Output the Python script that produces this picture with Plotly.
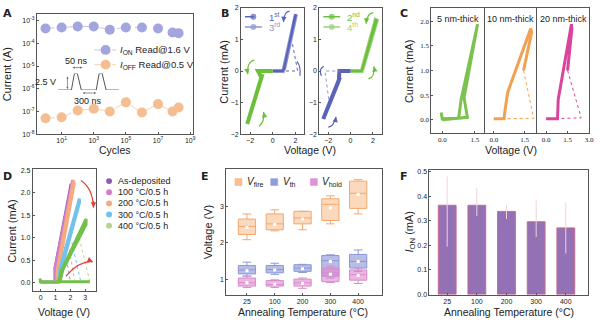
import plotly.graph_objects as go

W, H = 600, 323
def px(x): return x / W
def py(y): return 1 - y / H
def dom_x(a, b): return [a / W, b / W]
def dom_y(t, b): return [1 - b / H, 1 - t / H]

FONT = "Liberation Sans"
SERIF = "Liberation Serif"
DARK = "#555555"

# ================= DATA =================
# Panel A : endurance
cycles = [1, 10, 100, 1e3, 1e4, 1e5, 1e6, 1e7, 8e7, 1.9e8]
i_on = [4.5e-4, 5e-4, 5.5e-4, 5.5e-4, 4e-4, 5e-4, 5e-4, 4.5e-4, 3e-4, 2.8e-4]
i_off = [5e-8, 5.5e-8, 1.1e-7, 1.3e-7, 1e-7, 2.5e-7, 9e-8, 2.1e-7, 1e-7, 1.5e-7]
a_names = ["<i>I</i><sub>ON</sub> Read@1.6 V", "<i>I</i><sub>OFF</sub> Read@0.5 V"]
a_ytick = [1e-8, 1e-7, 1e-6, 1e-5, 1e-4, 1e-3]
a_ytext = ["10<sup>-8</sup>", "10<sup>-7</sup>", "10<sup>-6</sup>", "10<sup>-5</sup>", "10<sup>-4</sup>", "10<sup>-3</sup>"]
a_xtick = [1e1, 1e3, 1e5, 1e7, 1e9]
a_xtext = ["10<sup>1</sup>", "10<sup>3</sup>", "10<sup>5</sup>", "10<sup>7</sup>", "10<sup>9</sup>"]
pulse_t = [0, 14, 17, 20, 24, 39, 42, 45, 49, 62]
pulse_v = [0, 0, 1, 1, 0, 0, 1, 1, 0, 0]

# Panel B : bipolar I-V (V, mA)
b1_blue_v = [0.0, 0.9, 1.0, 2.05, 1.95, 1.0]
b1_blue_i = [0.0, 0.0, 0.1, 1.8, 1.72, 0.05]
b1_blue_ret_v = [1.75, 2.2, 0.0]
b1_blue_ret_i = [0.85, 0.0, 0.0]
b1_green_v = [0.0, -1.3, -1.0, -2.25, -2.15, -0.9]
b1_green_i = [0.0, 0.0, -0.2, -1.68, -1.6, -0.1]
b2_green_v = [0.0, 1.0, 1.1, 2.35, 2.25, 1.0]
b2_green_i = [0.0, 0.0, 0.1, 1.6, 1.62, 0.0]
b2_blue_v = [0.0, -1.0, -1.05, -2.45, -2.35, -0.95]
b2_blue_i = [0.0, 0.0, -0.3, -1.52, -1.45, -0.2]
b2_blue_ret_v = [-1.95, -2.3, -1.0]
b2_blue_ret_i = [-0.9, 0.0, 0.0]
b_names = ["1<sup>st</sup>", "3<sup>rd</sup>", "2<sup>nd</sup>", "4<sup>th</sup>"]

# Panel C : thickness
c5_v = [-0.05, 0.0, 0.75, 0.8, 0.86, 1.62, 1.58, 1.0, 1.15, 0.0]
c5_i = [0.15, 0.02, 0.03, 0.2, 0.4, 1.94, 1.85, 0.45, 0.05, 0.0]
c10_v = [0.0, 0.5, 0.55, 0.68, 1.8, 1.85, 1.45]
c10_i = [0.02, 0.02, 0.2, 0.56, 1.85, 1.78, 1.0]
c10_ret_v = [1.45, 1.95, 0.0]
c10_ret_i = [1.0, 0.03, 0.02]
c20_v = [0.0, 0.8, 0.82, 0.85, 1.77, 1.8, 1.5]
c20_i = [0.02, 0.02, 0.2, 0.42, 1.94, 1.85, 1.0]
c20_ret_v = [1.5, 2.45, 0.0]
c20_ret_i = [1.0, 0.04, 0.02]
c_labels = ["5 nm-thick", "10 nm-thick", "20 nm-thick"]

# Panel D : annealing I-V
d_names = ["As-deposited", "100 °C/0.5 h", "200 °C/0.5 h", "300 °C/0.5 h", "400 °C/0.5 h"]
d_colors = ["#8A5DB3", "#D07FC8", "#F5AA80", "#72C3EC", "#B5D58C"]
d_asdep_v = [0.95, 2.05]
d_asdep_i = [0.3, 2.2]
d_100_v = [0.0, 0.95, 0.95, 2.15, 2.2, 1.05]
d_100_i = [0.02, 0.02, 0.3, 2.28, 2.2, 0.35]
d_200_v = [0.0, 1.1, 1.12, 2.2, 2.25, 1.2]
d_200_i = [0.02, 0.02, 0.3, 2.27, 2.2, 0.3]
d_300_v = [0.0, 1.25, 1.28, 2.6, 2.62, 1.35]
d_300_i = [0.02, 0.02, 0.3, 1.87, 1.8, 0.25]
d_400_v = [-0.05, 0.0, 1.2, 1.38, 3.05, 3.05, 1.5, 1.3, 3.3]
d_400_i = [0.1, 0.02, 0.02, 0.26, 1.42, 1.3, 0.3, 0.03, 0.03]
d_ret_v = [[1.6, 2.0], [1.8, 2.3], [2.1, 2.7], [2.6, 3.3]]
d_ret_i = [[0.8, 0.02], [1.0, 0.02], [0.9, 0.02], [1.0, 0.03]]

# Panel E : box statistics
temps = ["25", "100", "200", "300", "400"]
fire_lo = [2.09, 2.33, 2.36, 2.52, 2.79]
fire_q1 = [2.23, 2.36, 2.52, 2.61, 2.94]
fire_med = [2.45, 2.52, 2.68, 3.05, 3.35]
fire_q3 = [2.65, 2.79, 2.86, 3.2, 3.68]
fire_hi = [2.79, 2.9, 2.86, 3.28, 3.72]
fire_mean = [2.42, 2.5, 2.65, 2.95, 3.32]
th_lo = [1.1, 1.15, 1.2, 1.05, 1.23]
th_q1 = [1.16, 1.19, 1.23, 1.1, 1.32]
th_med = [1.27, 1.28, 1.32, 1.52, 1.5]
th_q3 = [1.39, 1.39, 1.41, 1.66, 1.69]
th_hi = [1.48, 1.45, 1.42, 1.68, 1.81]
th_mean = [1.25, 1.27, 1.3, 1.5, 1.5]
hold_lo = [0.79, 0.79, 0.77, 0.93, 0.9]
hold_q1 = [0.83, 0.83, 0.83, 0.95, 0.99]
hold_med = [0.92, 0.87, 0.92, 1.19, 1.14]
hold_q3 = [1.05, 0.98, 1.02, 1.32, 1.27]
hold_hi = [1.1, 1.0, 1.05, 1.37, 1.32]
hold_mean = [0.92, 0.88, 0.9, 1.15, 1.12]
e_names = ["<i>V</i><sub>fire</sub>", "<i>V</i><sub>th</sub>", "<i>V</i><sub>hold</sub>"]

# Panel F : ION bars
i_on_mean = [0.363, 0.363, 0.338, 0.296, 0.271]
i_on_err_plus = [0.117, 0.07, 0.027, 0.088, 0.103]
i_on_err_minus = [0.168, 0.043, 0.031, 0.062, 0.104]

# ================= FIGURE =================
fig = go.Figure()

def axis(domain, anchor, rng, **kw):
    d = dict(domain=domain, anchor=anchor, range=rng, showline=True, linecolor=DARK,
             linewidth=0.8, mirror=True, ticks="inside", ticklen=2, tickwidth=0.8,
             tickcolor=DARK, tickfont=dict(size=7, family=FONT, color="#222"),
             showgrid=False, zeroline=False)
    d.update(kw)
    return d

ION_C, IOFF_C = "#A2A5DE", "#F6BD90"
# ---- A
fig.add_trace(go.Scatter(x=cycles, y=i_on, mode="lines+markers", xaxis="x", yaxis="y",
                         line=dict(color="#C3C6EC", width=1, dash="dash"),
                         marker=dict(size=10, color=ION_C), showlegend=False))
fig.add_trace(go.Scatter(x=cycles, y=i_off, mode="lines+markers", xaxis="x", yaxis="y",
                         line=dict(color="#F8D2B4", width=1, dash="dash"),
                         marker=dict(size=10, color=IOFF_C), showlegend=False))
fig.add_trace(go.Scatter(x=pulse_t, y=pulse_v, mode="lines", xaxis="x10", yaxis="y10",
                         line=dict(color="#555", width=1), showlegend=False))

# ---- B
BLUE, LBLUE, GREEN, LGREEN = "#5A63B8", "#8D95D4", "#6CBF3A", "#9AD27A"
def line(xa, ya, v, i, color, width=3.5, dash=None):
    fig.add_trace(go.Scatter(x=v, y=i, mode="lines", xaxis=xa, yaxis=ya,
                             line=dict(color=color, width=width, dash=dash), showlegend=False))

line("x2", "y2", b1_blue_v, b1_blue_i, LBLUE, 4)
line("x2", "y2", b1_blue_v, b1_blue_i, BLUE, 2)
line("x2", "y2", b1_blue_ret_v, b1_blue_ret_i, BLUE, 1, "dot")
line("x2", "y2", b1_green_v, b1_green_i, GREEN, 4)
line("x3", "y3", b2_green_v, b2_green_i, LGREEN, 4)
line("x3", "y3", b2_green_v, b2_green_i, GREEN, 2)
line("x3", "y3", b2_blue_v, b2_blue_i, BLUE, 4)
line("x3", "y3", b2_blue_ret_v, b2_blue_ret_i, LBLUE, 1, "dot")

# ---- C
CG, CO, CP = "#7CC24E", "#F2A052", "#D9459B"
line("x4", "y4", c5_v, c5_i, CG, 3)
line("x5", "y5", c10_v, c10_i, CO, 3)
line("x5", "y5", c10_ret_v, c10_ret_i, CO, 1, "dot")
line("x6", "y6", c20_v, c20_i, CP, 3)
line("x6", "y6", c20_ret_v, c20_ret_i, CP, 1, "dot")

# ---- D
for k, (rv, ri) in enumerate(zip(d_ret_v, d_ret_i)):
    line("x7", "y7", rv, ri, d_colors[k + 1], 1, "dot")
line("x7", "y7", d_asdep_v, d_asdep_i, d_colors[0], 3)
line("x7", "y7", d_100_v, d_100_i, d_colors[1], 3)
line("x7", "y7", d_200_v, d_200_i, d_colors[2], 3)
line("x7", "y7", d_300_v, d_300_i, d_colors[3], 3)
line("x7", "y7", d_400_v, d_400_i, "#72C04A", 3)

# ---- E
box_sets = [
    (fire_lo, fire_q1, fire_med, fire_q3, fire_hi, fire_mean, "rgba(248,185,135,0.55)", "#F2A86E"),
    (th_lo, th_q1, th_med, th_q3, th_hi, th_mean, "rgba(135,145,215,0.6)", "#8E96D6"),
    (hold_lo, hold_q1, hold_med, hold_q3, hold_hi, hold_mean, "rgba(222,135,205,0.6)", "#D98BCB"),
]
for lo, q1, med, q3, hi, mean, fill, lc in box_sets:
    fig.add_trace(go.Box(x=temps, lowerfence=lo, q1=q1, median=med, q3=q3, upperfence=hi,
                         xaxis="x8", yaxis="y8", fillcolor=fill, line=dict(color=lc, width=1),
                         width=0.62, whiskerwidth=0.5, showlegend=False, boxpoints=False))
    fig.add_trace(go.Scatter(x=temps, y=mean, mode="markers", xaxis="x8", yaxis="y8",
                             marker=dict(symbol="square", size=3, color="white"), showlegend=False))

# ---- F
fig.add_trace(go.Bar(x=temps, y=i_on_mean, xaxis="x9", yaxis="y9", width=0.6,
                     marker=dict(color="#9470B5", line=dict(color="#C86A8C", width=1)),
                     error_y=dict(type="data", symmetric=False, array=i_on_err_plus,
                                  arrayminus=i_on_err_minus, color="#F2D0DC", thickness=1, width=0),
                     showlegend=False))

# ================= LAYOUT =================
lay = dict(width=W, height=H, margin=dict(l=0, r=0, t=0, b=0),
           paper_bgcolor="white", plot_bgcolor="rgba(0,0,0,0)", showlegend=False,
           font=dict(family=FONT, color="#222"), boxmode="overlay")

lay["xaxis"] = axis(dom_x(37, 195), "y", [-0.55, 9.2], type="log", tickvals=a_xtick, ticktext=a_xtext)
lay["yaxis"] = axis(dom_y(10, 133), "x", [-8, -2.7], type="log", tickvals=a_ytick, ticktext=a_ytext)
lay["xaxis10"] = dict(domain=dom_x(58, 120), anchor="y10", range=[0, 62], visible=False)
lay["yaxis10"] = dict(domain=dom_y(71, 88), anchor="x10", range=[0, 1], visible=False)

for n, d in ((2, (243, 307)), (3, (322, 385))):
    lay[f"xaxis{n}"] = axis(dom_x(*d), f"y{n}", [-2.8, 2.8], tickvals=[-2, 0, 2])
    lay[f"yaxis{n}"] = axis(dom_y(4, 133), f"x{n}", [-2, 2], tickvals=[-2, -1, 0, 1, 2])

cdoms = [(435, 488, [-0.5, 1.91]), (488, 542, [-0.48, 2.13]), (542, 594, [-0.6, 3.0])]
for k, (a, b, r) in enumerate(cdoms):
    n = 4 + k
    lay[f"xaxis{n}"] = axis(dom_x(a, b), f"y{n}", r, tickvals=[0, 1.5, 3.0], tickformat=".1f",
                            tickfont=dict(size=7, family=SERIF, color="#222"))
    lay[f"yaxis{n}"] = axis(dom_y(4, 132), f"x{n}", [-0.27, 2.27],
                            tickvals=[0, 0.5, 1, 1.5, 2], tickformat=".1f",
                            tickfont=dict(size=7, family=SERIF, color="#222"),
                            showticklabels=(k == 0), ticks="inside" if k == 0 else "",
                            showline=(k != 1))

lay["xaxis7"] = axis(dom_x(33, 97), "y7", [-0.53, 3.73], tickvals=[0, 1, 2, 3])
lay["yaxis7"] = axis(dom_y(169, 293), "x7", [-0.17, 2.52], tickvals=[0, 0.5, 1, 1.5, 2, 2.5], tickformat=".1f")

lay["xaxis8"] = axis(dom_x(228, 385), "y8", [-0.75, 4.85], type="category")
lay["yaxis8"] = axis(dom_y(169, 297), "x8", [0.6, 4.0], tickvals=[1, 2, 3])

lay["xaxis9"] = axis(dom_x(433, 593), "y9", [-0.6, 4.75], type="category")
lay["yaxis9"] = axis(dom_y(170, 297), "x9", [0, 0.505], tickvals=[0, 0.1, 0.2, 0.3, 0.4, 0.5], tickformat=".1f")

ann = []
shapes = []
def text(x, y, s, size=11, angle=0, color="#222", xanchor="center", yanchor="middle", bold=False, family=FONT):
    ann.append(dict(x=px(x), y=py(y), xref="paper", yref="paper", text=f"<b>{s}</b>" if bold else s,
                    showarrow=False, textangle=angle, xanchor=xanchor, yanchor=yanchor,
                    font=dict(size=size, color=color, family=family)))

# panel letters
for s, x, y in (("A", 1, 1), ("B", 221, 1), ("C", 401, 1), ("D", 1, 168), ("E", 201, 168), ("F", 401, 168)):
    text(x, y, s, size=11, xanchor="left", yanchor="top", bold=True, family="DejaVu Sans")

# axis titles
text(8, 72, "Current (A)", angle=-90)
text(116, 149, "Cycles", size=10.5)
text(225, 69, "Current (mA)", angle=-90)
text(313, 149, "Voltage (V)", size=10.5)
text(412, 69, "Current (mA)", angle=-90)
text(515, 149, "Voltage (V)", size=10.5)
text(12, 232, "Current (mA)", angle=-90)
text(65, 315, "Voltage (V)", size=10.5)
text(210, 233, "Voltage (V)", angle=-90)
text(306, 315, "Annealing Temperature (°C)", size=10.5)
text(413, 233, "<i>I</i><sub>ON</sub> (mA)", angle=-90)
text(513, 315, "Annealing Temperature (°C)", size=10.5)

# --- legend A (manual)
for k, (nm, c, lc) in enumerate(zip(a_names, [ION_C, IOFF_C], ["#C3C6EC", "#F8D2B4"])):
    yy = 47 + 15 * k
    shapes.append(dict(type="line", xref="paper", yref="paper", x0=px(95), x1=px(117), y0=py(yy), y1=py(yy),
                       line=dict(color=lc, width=1, dash="dash")))
    shapes.append(dict(type="circle", xref="paper", yref="paper", x0=px(101.5), x1=px(111.5),
                       y0=py(yy + 5), y1=py(yy - 5), fillcolor=c, line=dict(width=0)))
    text(119, yy, nm, size=9.5, xanchor="left")

# pulse annotations
text(77, 58, "50 ns", size=9)
text(46, 80, "2.5 V", size=9)
text(89, 99, "300 ns", size=9)
def dbl_arrow(x0, y0, x1, y1):
    ann.append(dict(x=px(x1), y=py(y1), xref="paper", yref="paper", ax=x0 - x1, ay=y0 - y1,
                    text="", showarrow=True, arrowhead=2, startarrowhead=2, arrowside="end+start",
                    arrowsize=0.6, startarrowsize=0.6, arrowwidth=0.7, arrowcolor="#666"))
dbl_arrow(72, 65, 83, 65)
dbl_arrow(68, 73, 68, 87)
dbl_arrow(82, 91, 97, 91)

# --- legend B
for k, (nm, c, dash, x0) in enumerate(zip(b_names, [BLUE, LBLUE, GREEN, LGREEN], ["dash", "solid", "solid", "solid"],
                                          [247, 247, 326, 326])):
    yy = 13 + 10.5 * (k % 2)
    shapes.append(dict(type="line", xref="paper", yref="paper", x0=px(x0), x1=px(x0 + 17), y0=py(yy), y1=py(yy),
                       line=dict(color=c, width=1.5, dash=dash)))
    shapes.append(dict(type="circle", xref="paper", yref="paper", x0=px(x0 + 5.5), x1=px(x0 + 11.5),
                       y0=py(yy + 3), y1=py(yy - 3), fillcolor=c, line=dict(width=0), opacity=0.7))
    text(x0 + 22, yy, f"<span style='color:{c}'>{nm}</span>", size=9.5, xanchor="left")

# --- labels C
for s, x in zip(c_labels, [462, 515, 568]):
    text(x, 15, s, size=9)

# --- legend D
for k, (nm, c) in enumerate(zip(d_names, d_colors)):
    yy = 181 + 11.4 * k
    shapes.append(dict(type="circle", xref="paper", yref="paper", x0=px(107), x1=px(113),
                       y0=py(yy + 3), y1=py(yy - 3), fillcolor=c, line=dict(width=0)))
    text(117, yy, nm, size=9, xanchor="left")

# --- legend E
for nm, c, lc, x0 in zip(e_names, ["rgba(248,185,135,0.9)", "rgba(135,145,215,0.9)", "rgba(222,135,205,0.9)"],
                         ["#F2A86E", "#8E96D6", "#D98BCB"], [237, 273, 313]):
    shapes.append(dict(type="rect", xref="paper", yref="paper", x0=px(x0), x1=px(x0 + 7),
                       y0=py(185.5), y1=py(178.5), fillcolor=c, line=dict(color=lc, width=0.5)))
    text(x0 + 10, 182, nm, size=10, xanchor="left")

# curved arrows
def curved(xa, ya, p0, c, p1, color, tail):
    shapes.append(dict(type="path", xref=xa, yref=ya,
                       path=f"M {p0[0]},{p0[1]} Q {c[0]},{c[1]} {p1[0]},{p1[1]}",
                       line=dict(color=color, width=1.2)))
    ann.append(dict(x=p1[0], y=p1[1], xref=xa, yref=ya, axref=xa, ayref=ya, ax=tail[0], ay=tail[1],
                    text="", showarrow=True, arrowhead=2, arrowsize=0.9, arrowwidth=1.2, arrowcolor=color))

curved("x2", "y2", (1.5, 1.9), (1.0, 1.9), (0.95, 1.55), BLUE, (0.97, 1.65))
curved("x2", "y2", (2.4, -0.15), (2.5, 0.15), (2.15, 0.3), BLUE, (2.3, 0.25))
curved("x2", "y2", (-1.6, 0.35), (-2.3, 0.3), (-2.2, -0.1), GREEN, (-2.25, 0.0))
curved("x2", "y2", (-1.2, -1.75), (-0.7, -1.6), (-0.8, -1.3), GREEN, (-0.75, -1.4))
curved("x3", "y3", (2.05, 1.85), (1.5, 1.85), (1.4, 1.5), GREEN, (1.42, 1.6))
curved("x3", "y3", (1.6, -0.25), (2.2, -0.2), (2.1, 0.15), GREEN, (2.15, 0.05))
curved("x3", "y3", (-2.4, 0.15), (-2.9, 0.05), (-2.6, -0.15), BLUE, (-2.75, -0.1))
curved("x3", "y3", (-2.0, -1.78), (-1.5, -1.75), (-1.3, -1.45), BLUE, (-1.35, -1.55))
curved("x7", "y7", (2.7, 2.27), (3.5, 2.1), (3.55, 1.67), "#E0413A", (3.55, 1.85))
curved("x7", "y7", (1.7, 0.15), (2.6, 0.5), (3.5, 0.47), "#E0413A", (3.3, 0.5))

lay["annotations"] = ann
lay["shapes"] = shapes
fig.update_layout(**lay)
fig.write_html("out.html")
